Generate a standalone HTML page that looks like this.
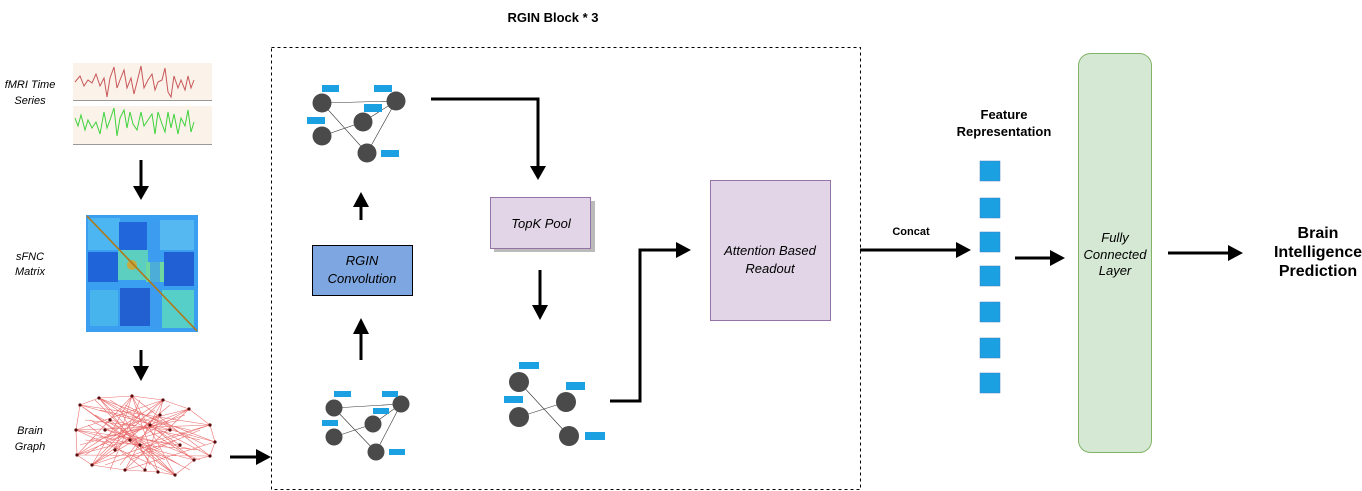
<!DOCTYPE html>
<html><head><meta charset="utf-8"><style>
html,body{margin:0;padding:0;background:#fff;width:1362px;height:491px;overflow:hidden}
text{font-family:"Liberation Sans",Arial,sans-serif}
</style></head><body>
<svg width="1362" height="491" viewBox="0 0 1362 491" xmlns="http://www.w3.org/2000/svg">
<!-- title -->
<text x="553" y="22" font-size="13" font-weight="bold" text-anchor="middle">RGIN Block * 3</text>
<rect x="271.5" y="47.5" width="589" height="442" fill="none" stroke="#000" stroke-dasharray="3,3"/>

<!-- left labels -->
<g font-size="11" font-style="italic" text-anchor="middle">
<text x="30" y="88">fMRI Time</text><text x="30" y="104">Series</text>
<text x="30" y="260">sFNC</text><text x="30" y="275">Matrix</text>
<text x="30" y="434">Brain</text><text x="30" y="450">Graph</text>
</g>
<!-- time series -->
<rect x="73" y="63" width="139" height="38" fill="#fbf3ea"/>
<line x1="73" y1="100.5" x2="212" y2="100.5" stroke="#999"/>
<polyline fill="none" stroke="#c8575a" stroke-width="1" points="75,82 80,76 84,86 88,80 92,83 96,74 100,86 104,78 107,97 110,78 114,67 117,88 120,80 124,70 127,88 131,78 134,94 137,82 141,66 144,88 148,80 152,74 155,90 158,82 162,80 165,68 168,92 171,97 174,76 178,88 181,80 185,90 188,76 191,88 194,80"/>
<rect x="73" y="106" width="139" height="39" fill="#fbf3ea"/>
<line x1="73" y1="144.5" x2="212" y2="144.5" stroke="#999"/>
<polyline fill="none" stroke="#3fd23c" stroke-width="1" points="75,118 78,126 81,115 85,130 88,120 92,128 96,122 100,134 104,112 107,128 110,120 114,108 117,136 120,118 124,110 127,128 130,112 133,124 137,130 141,112 144,126 148,120 152,114 155,134 158,112 162,124 165,132 168,112 171,128 174,114 178,134 181,118 185,126 188,110 191,132 194,122"/>

<!-- matrix -->
<rect x="86" y="215" width="112" height="117" fill="#3a9ff0"/>
<rect x="88" y="218" width="32" height="32" fill="#4cb6f2"/>
<rect x="119" y="222" width="28" height="30" fill="#2266dc"/>
<rect x="160" y="220" width="34" height="30" fill="#55b8f0"/>
<rect x="88" y="252" width="30" height="30" fill="#1f64d8"/>
<rect x="118" y="250" width="30" height="30" fill="#5ccfc0"/>
<rect x="146" y="262" width="18" height="20" fill="#6fd8a0"/>
<rect x="164" y="252" width="30" height="34" fill="#2060d4"/>
<rect x="120" y="288" width="30" height="38" fill="#2260d2"/>
<rect x="162" y="290" width="32" height="38" fill="#55cfc8"/>
<rect x="90" y="290" width="28" height="36" fill="#48b4ee"/>
<rect x="150" y="222" width="10" height="106" fill="#3d9cef" opacity=".7"/>
<circle cx="132" cy="265" r="5" fill="#e0a020" opacity=".8"/>
<line x1="87" y1="216" x2="197" y2="331" stroke="#b07818" stroke-width="1.6"/>

<!-- brain graph -->
<g stroke="#e86060" stroke-width="0.6" fill="none" opacity="0.9">
<polygon points="80,405 99,398 132,396 163,400 189,409 210,425 215,442 210,456 194,460 175,475 158,472 125,470 92,465 77,455 76,430"/>
<path d="M80,405 L175,475 M99,398 L210,456 M132,396 L92,465 M163,400 L77,455 M189,409 L125,470 M210,425 L76,430 M215,442 L80,405 M194,460 L99,398 M158,472 L132,396 M76,430 L194,460 M92,465 L189,409 M125,470 L163,400 M80,405 L210,425 M99,398 L215,442 M77,455 L210,456 M132,396 L175,475 M175,475 L76,430 M163,400 L92,465 M189,409 L77,455 M110,420 L200,440 M90,440 L180,420 M120,410 L150,465 M140,415 L100,455 M170,430 L85,420 M105,430 L195,450 M130,440 L190,470 M115,450 L170,405 M95,415 L160,450 M150,425 L80,445 M180,445 L110,400 M200,430 L130,460 M88,425 L145,470 M125,405 L205,445 M140,445 L95,400 M160,415 L120,465 M175,440 L105,465 M110,440 L185,415 M150,440 L200,460 M85,455 L155,410 M80,405 L215,442 M99,398 L158,472 M132,396 L210,456 M76,430 L163,400 M92,465 L210,425 M77,455 L132,396 M125,470 L215,442 M175,475 L99,398 M194,460 L76,430 M189,409 L92,465 M110,420 L175,475 M140,445 L210,425 M170,430 L77,455 M150,425 L194,460 M115,450 L132,396 M160,415 L92,465 M105,430 L189,409 M130,440 L80,405 M145,470 L163,400 M180,445 L76,430 M100,410 L190,430 M85,440 L200,450 M120,430 L180,465 M140,400 L110,470 M165,460 L90,420"/>
</g>
<g fill="#5a0c0c">
<circle cx="80" cy="405" r="1.6"/><circle cx="99" cy="398" r="1.6"/><circle cx="132" cy="396" r="1.6"/><circle cx="163" cy="400" r="1.6"/><circle cx="189" cy="409" r="1.6"/><circle cx="210" cy="425" r="1.6"/><circle cx="215" cy="442" r="1.6"/><circle cx="210" cy="456" r="1.6"/><circle cx="194" cy="460" r="1.6"/><circle cx="175" cy="475" r="1.6"/><circle cx="158" cy="472" r="1.6"/><circle cx="125" cy="470" r="1.6"/><circle cx="92" cy="465" r="1.6"/><circle cx="77" cy="455" r="1.6"/><circle cx="76" cy="430" r="1.6"/><circle cx="110" cy="420" r="1.6"/><circle cx="140" cy="445" r="1.6"/><circle cx="170" cy="430" r="1.6"/><circle cx="150" cy="425" r="1.6"/><circle cx="115" cy="450" r="1.6"/><circle cx="180" cy="445" r="1.6"/><circle cx="130" cy="440" r="1.6"/><circle cx="160" cy="415" r="1.6"/><circle cx="105" cy="430" r="1.6"/><circle cx="145" cy="470" r="1.6"/>
</g>

<!-- arrows -->
<g stroke="#000" stroke-width="3" fill="none">
<line x1="141" y1="160" x2="141" y2="188"/>
<line x1="141" y1="350" x2="141" y2="370"/>
<line x1="230" y1="457" x2="258" y2="457"/>
<line x1="361" y1="360" x2="361" y2="332"/>
<line x1="361" y1="220" x2="361" y2="206"/>
<polyline points="431,99 538,99 538,168"/>
<line x1="540" y1="270" x2="540" y2="307"/>
<polyline points="610,401 640,401 640,250 678,250"/>
<line x1="860" y1="250" x2="958" y2="250"/>
<line x1="1015" y1="258" x2="1052" y2="258"/>
<line x1="1168" y1="253" x2="1230" y2="253"/>
</g>
<g fill="#000">
<polygon points="133,186 149,186 141,200"/>
<polygon points="133,366 149,366 141,381"/>
<polygon points="256,449 256,465 271,457"/>
<polygon points="353,334 369,334 361,318"/>
<polygon points="353,207 369,207 361,192"/>
<polygon points="530,166 546,166 538,180"/>
<polygon points="532,305 548,305 540,320"/>
<polygon points="676,242 676,258 691,250"/>
<polygon points="956,242 956,258 971,250"/>
<polygon points="1050,250 1050,266 1065,258"/>
<polygon points="1228,245 1228,261 1243,253"/>
</g>

<!-- graphs -->
<g stroke="#333" stroke-width="0.6">
<line x1="322" y1="103" x2="396" y2="101"/><line x1="322" y1="103" x2="367" y2="153"/><line x1="322" y1="136" x2="363" y2="122"/><line x1="363" y1="122" x2="396" y2="101"/><line x1="367" y1="153" x2="396" y2="101"/>
<line x1="334" y1="408" x2="401" y2="404"/><line x1="334" y1="408" x2="376" y2="452"/><line x1="334" y1="437" x2="373" y2="424"/><line x1="373" y1="424" x2="401" y2="404"/><line x1="376" y1="452" x2="401" y2="404"/>
<line x1="519" y1="382" x2="569" y2="436"/><line x1="519" y1="417" x2="566" y2="402"/>
</g>
<g fill="#4a4a4a">
<circle cx="322" cy="103" r="9.5"/><circle cx="396" cy="101" r="9.5"/><circle cx="363" cy="122" r="9.5"/><circle cx="322" cy="136" r="9.5"/><circle cx="367" cy="153" r="9.5"/>
<circle cx="334" cy="408" r="8.5"/><circle cx="401" cy="404" r="8.5"/><circle cx="373" cy="424" r="8.5"/><circle cx="334" cy="437" r="8.5"/><circle cx="376" cy="452" r="8.5"/>
<circle cx="519" cy="382" r="10"/><circle cx="566" cy="402" r="10"/><circle cx="519" cy="417" r="10"/><circle cx="569" cy="436" r="10"/>
</g>
<g fill="#1ba1e2">
<rect x="322" y="85" width="17" height="7"/><rect x="374" y="85" width="18" height="7"/><rect x="364" y="104" width="18" height="8"/><rect x="307" y="117" width="18" height="7"/><rect x="381" y="150" width="18" height="7"/>
<rect x="334" y="391" width="17" height="6"/><rect x="382" y="391" width="16" height="6"/><rect x="373" y="408" width="16" height="6"/><rect x="322" y="420" width="16" height="6"/><rect x="389" y="449" width="16" height="6"/>
<rect x="519" y="362" width="20" height="7"/><rect x="566" y="382" width="19" height="8"/><rect x="504" y="396" width="19" height="7"/><rect x="585" y="432" width="20" height="8"/>
</g>

<!-- boxes -->
<rect x="312.5" y="245.5" width="100" height="50" fill="#7ea6e0" stroke="#000"/>
<text x="362" y="265" font-size="13" font-style="italic" text-anchor="middle">RGIN</text>
<text x="362" y="283" font-size="13" font-style="italic" text-anchor="middle">Convolution</text>
<rect x="494" y="201" width="101" height="51" fill="#bbb"/>
<rect x="490.5" y="197.5" width="100" height="51" fill="#e1d5e7" stroke="#9673a6"/>
<text x="541" y="228" font-size="13" font-style="italic" text-anchor="middle">TopK Pool</text>
<rect x="710.5" y="180.5" width="120" height="140" fill="#e1d5e7" stroke="#9673a6"/>
<text x="770" y="255" font-size="13" font-style="italic" text-anchor="middle">Attention Based</text>
<text x="770" y="273" font-size="13" font-style="italic" text-anchor="middle">Readout</text>

<text x="911" y="235" font-size="11" font-weight="bold" text-anchor="middle">Concat</text>
<text x="1004" y="119" font-size="13" font-weight="bold" text-anchor="middle">Feature</text>
<text x="1004" y="136" font-size="13" font-weight="bold" text-anchor="middle">Representation</text>
<g fill="#1ba1e2" stroke="#3c7fc0" stroke-width="0.5">
<rect x="980" y="161" width="20" height="20"/><rect x="980" y="198" width="20" height="20"/><rect x="980" y="232" width="20" height="20"/><rect x="980" y="266" width="20" height="20"/><rect x="980" y="302" width="20" height="20"/><rect x="980" y="338" width="20" height="20"/><rect x="980" y="373" width="20" height="20"/>
</g>
<rect x="1078.5" y="53.5" width="73" height="399" rx="12" fill="#d5e8d4" stroke="#82b366"/>
<g font-size="13" font-style="italic" text-anchor="middle">
<text x="1115" y="242">Fully</text><text x="1115" y="259">Connected</text><text x="1115" y="275">Layer</text>
</g>
<g font-size="16" font-weight="bold" text-anchor="middle">
<text x="1318" y="238">Brain</text><text x="1318" y="257">Intelligence</text><text x="1318" y="276">Prediction</text>
</g>
</svg>
</body></html>
